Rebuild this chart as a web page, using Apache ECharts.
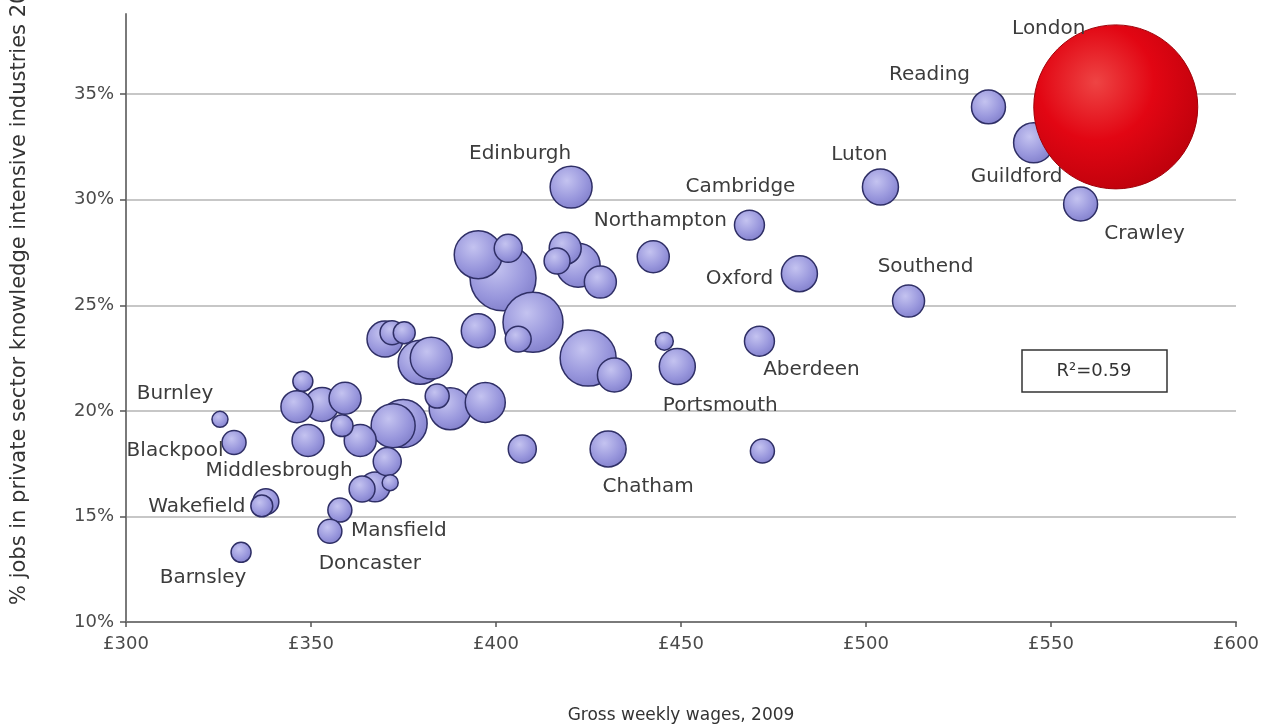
<!DOCTYPE html>
<html>
<head>
<meta charset="utf-8">
<script src="https://cdn.jsdelivr.net/npm/echarts@6/dist/echarts.min.js"></script>
<style>
html,body{margin:0;padding:0;background:#fff;}
#chart{width:1263px;height:725px;}
</style>
</head>
<body>
<div id="chart"></div>
<script>
// ---- data ----
const cities = ['Reading','Guildford','Crawley','Luton','Cambridge','Oxford','Southend','Aberdeen','','Portsmouth','','Chatham','Northampton','Edinburgh',
  '','','','','','','','','','','','','','','','','','','','','','','','','','','','','Middlesbrough','','Mansfield','Doncaster','','','','','Burnley','Blackpool','','Wakefield','Barnsley'];
const wages = [533.1,545.3,558.0,503.9,468.5,482.0,511.5,471.2,472.0,449.0,445.5,430.3,442.5,420.3,
  401.9,395.2,403.3,410.0,406.0,395.2,418.7,422.2,416.5,428.2,424.9,432.0,397.1,387.6,407.1,370.0,371.9,375.2,382.5,379.5,359.2,384.1,374.9,372.2,363.3,358.4,370.6,367.3,363.8,371.4,357.8,355.1,347.8,346.2,353.0,349.2,325.4,329.2,336.7,337.8,331.1];
const jobsShare = [34.4,32.7,29.8,30.6,28.8,26.5,25.2,23.3,18.1,22.1,23.3,18.2,27.3,30.6,
  26.3,27.4,27.7,24.2,23.4,23.8,27.7,26.9,27.1,26.1,22.5,21.7,20.4,20.1,18.2,23.4,23.7,23.7,22.5,22.3,20.6,20.7,19.4,19.3,18.6,19.3,17.6,16.4,16.3,16.6,15.3,14.3,21.4,20.2,20.3,18.6,19.6,18.5,15.5,15.7,13.3];
const employment = [72,100,72,81,56,81,64,56,36,81,20,81,64,110,
  272,144,49,225,42,72,64,121,42,64,196,72,100,110,49,81,36,30,110,121,64,36,144,121,64,30,49,56,42,16,36,36,25,64,72,64,16,36,30,42,25];
const londonName = 'London';
const londonWage = 567.5;
const londonShare = 34.4;
const londonEmployment = 1681;
const xTicks = [300,350,400,450,500,550,600];
const yTicks = [10,15,20,25,30,35];
const rSquared = 'R²=0.59';

// ---- label placement (style) ----
const labelOffset = {
  London:[-67,-78], Reading:[-59,-32], Guildford:[-17,34], Crawley:[64,30], Luton:[-21,-32],
  Cambridge:[-9,-38], Northampton:[7,-36], Oxford:[-60,5], Southend:[17,-34], Aberdeen:[52,29],
  Portsmouth:[43,39], Chatham:[40,38], Edinburgh:[-51,-33], Burnley:[-45,-26], Blackpool:[-59,8],
  Middlesbrough:[-83,-18], Wakefield:[-69,5], Mansfield:[59,21], Doncaster:[40,33], Barnsley:[-38,25]
};

const FONT = 'DejaVu Sans';
function item(name, x, y, w) {
  return {
    name: name,
    value: [x, y, w],
    label: {show: !!name, offset: labelOffset[name] || [0,0]}
  };
}
let pts = cities.map((n,i) => item(n, wages[i], jobsShare[i], employment[i]));
pts.sort((a,b) => b.value[2] - a.value[2]);

const labelStyle = {
  position: 'inside', formatter: '{b}', color: '#3c3c3c',
  fontFamily: FONT, fontSize: 20
};

const chart = echarts.init(document.getElementById('chart'), null, {renderer:'canvas'});
chart.setOption({
  animation: false,
  backgroundColor: '#ffffff',
  grid: {left: 126, right: 27, top: 14, bottom: 103, containLabel: false, outerBoundsMode: 'none'},
  xAxis: {
    type: 'value', min: xTicks[0], max: xTicks[xTicks.length-1], interval: 50,
    name: 'Gross weekly wages, 2009', nameLocation: 'middle', nameGap: 85,
    nameTextStyle: {fontFamily: FONT, fontSize: 17, color: '#333'},
    axisLine: {show: true, lineStyle: {color: '#7a7a7a', width: 2}},
    axisTick: {show: true, length: 5, lineStyle: {color: '#555', width: 1.5}},
    axisLabel: {formatter: v => '£' + v, fontFamily: FONT, fontSize: 18, color: '#4a4a4a', margin: 13},
    splitLine: {show: false}
  },
  yAxis: {
    type: 'value', min: yTicks[0], max: 38.8, interval: 5,
    axisLine: {show: true, lineStyle: {color: '#7a7a7a', width: 2}},
    axisTick: {show: true, length: 6, customValues: yTicks, lineStyle: {color: '#555', width: 1.5}},
    axisLabel: {customValues: yTicks, formatter: v => v + '%',
      fontFamily: FONT, fontSize: 18, color: '#4a4a4a', margin: 12},
    splitLine: {show: true, lineStyle: {color: ['rgba(0,0,0,0)','#b4b4b4','#b4b4b4','#b4b4b4','#b4b4b4','#b4b4b4','rgba(0,0,0,0)'], width: 1.5}}
  },
  series: [
    {
      type: 'scatter',
      data: pts,
      symbolSize: v => 4 * Math.sqrt(v[2]),
      itemStyle: {
        color: {type:'radial', x:0.4, y:0.35, r:0.75, colorStops:[
          {offset:0, color:'#c4c3f0'}, {offset:0.6, color:'#9896dc'}, {offset:1, color:'#7b79c6'}]},
        borderColor: '#2f2f66', borderWidth: 1.5, opacity: 1
      },
      label: labelStyle,
      emphasis: {disabled: true},
      z: 2
    },
    {
      type: 'scatter',
      data: [item(londonName, londonWage, londonShare, londonEmployment)],
      symbolSize: v => 4 * Math.sqrt(v[2]),
      itemStyle: {
        color: {type:'radial', x:0.38, y:0.35, r:0.78, colorStops:[
          {offset:0, color:'#ee4444'}, {offset:0.45, color:'#e20613'}, {offset:1, color:'#b5000a'}]},
        borderColor: '#a00008', borderWidth: 1, opacity: 1
      },
      label: labelStyle,
      emphasis: {disabled: true},
      z: 3
    }
  ],
  graphic: [
    {type: 'text', x: 20, y: 605, rotation: Math.PI / 2, z: 10,
      style: {text: '% jobs in private sector knowledge intensive industries 2008', font: '21px "DejaVu Sans"', fill: '#333', align: 'left', verticalAlign: 'middle'}},
    {type: 'rect', shape: {x: 1022, y: 350, width: 145, height: 42}, z: 10,
      style: {fill: '#ffffff', stroke: '#333', lineWidth: 1.5}},
    {type: 'text', x: 1094, y: 371, z: 11,
      style: {text: rSquared, font: '18px "DejaVu Sans"', fill: '#333', align: 'center', verticalAlign: 'middle'}}
  ]
});
</script>
</body>
</html>
